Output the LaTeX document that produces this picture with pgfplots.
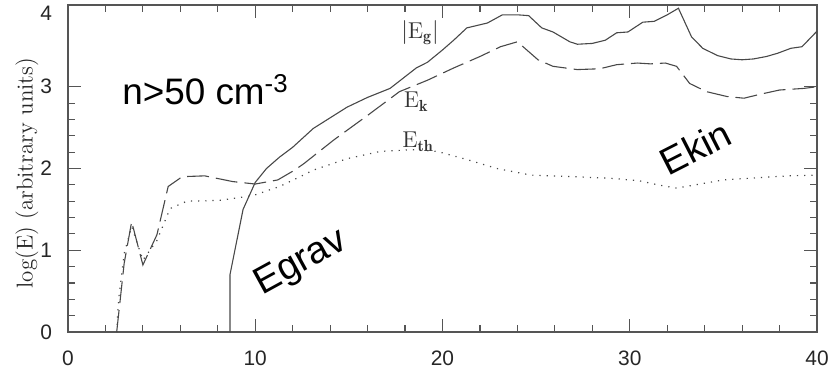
\documentclass[border=0pt]{standalone}
\usepackage{fontspec}
\usepackage{pgfplots}
\pgfplotsset{compat=1.18}
\newfontfamily\helv{Liberation Sans}
\definecolor{frame}{HTML}{555555}
\definecolor{curve}{HTML}{484848}
\begin{document}
\begin{tikzpicture}
\begin{axis}[
  name=ax,
  scale only axis,
  width=374.5bp, height=163.5bp,
  xmin=0, xmax=40, ymin=0, ymax=4,
  xtick={0,10,20,30,40}, ytick={0,1,2,3},
  extra y ticks={4},
  extra y tick style={yticklabel style={yshift=-4bp}},
  minor x tick num=4, minor y tick num=4,
  tick align=inside,
  major tick length=6.5bp, minor tick length=3.5bp,
  axis line style={frame, line width=0.8pt},
  every tick/.style={frame, line width=0.6pt},
  /pgf/number format/assume math mode=true,
  tick label style={font=\fontsize{10.5}{12}\helv, text=black!85},
  yticklabel style={xshift=-4.5bp},
  xticklabel style={yshift=-6bp},
  ylabel={log(E) (arbitrary units)},
  every axis y label/.style={at={(axis description cs:-0.055,0.486)}, rotate=90, anchor=center, font=\fontsize{11.5}{13}\selectfont, text=black!85},
  clip=true,
]
\addplot[curve, line width=0.55pt] table {
8.65 0
8.65 0.70
9.35 1.50
10.0 1.83
10.6 2.00
11.3 2.14
12.0 2.26
13.1 2.49
14.9 2.75
16.0 2.87
17.2 2.98
18.6 3.23
19.2 3.30
20.0 3.45
20.6 3.57
21.3 3.72
22.4 3.78
23.2 3.88
24.0 3.88
24.6 3.87
25.3 3.72
25.9 3.67
26.8 3.55
27.2 3.52
28.0 3.53
28.7 3.57
29.3 3.66
29.9 3.67
30.7 3.79
31.3 3.80
32.0 3.88
32.6 3.96
33.3 3.61
33.9 3.47
34.7 3.38
35.4 3.34
36.0 3.33
36.6 3.34
37.3 3.37
37.9 3.41
38.6 3.47
39.2 3.49
40.0 3.68
};
\addplot[curve, line width=0.55pt, dash pattern=on 11bp off 3.5bp] table {
2.6 0
3.0 0.84
3.4 1.35
4.0 0.82
4.75 1.19
5.35 1.78
6.1 1.90
7.3 1.91
8.8 1.84
10.0 1.81
11.2 1.86
12.1 1.98
12.6 2.06
14.2 2.35
16.0 2.65
17.7 2.94
19.2 3.08
20.6 3.23
22.0 3.37
23.1 3.49
24.0 3.55
25.1 3.33
25.9 3.25
27.2 3.21
28.4 3.22
29.3 3.27
30.4 3.29
31.1 3.28
31.9 3.29
32.5 3.25
33.2 3.04
34.1 2.94
35.2 2.88
36.1 2.86
37.0 2.91
38.0 2.96
39.3 2.98
40.0 3.00
};
\addplot[curve, line width=0.6pt, dash pattern=on 0.6bp off 3bp] table {
2.6 0
2.7 0.39
3.0 0.96
3.4 1.29
4.0 0.88
4.75 1.12
5.45 1.51
6.35 1.60
8.1 1.61
9.9 1.67
11.3 1.78
12.4 1.90
13.1 1.98
14.9 2.12
16.7 2.21
18.4 2.23
19.7 2.21
21.3 2.11
22.9 2.00
24.7 1.92
27.0 1.90
29.0 1.88
30.5 1.85
31.5 1.80
32.5 1.76
33.5 1.80
35.0 1.86
37.0 1.89
38.5 1.91
40.0 1.92
};
\node[font=\fontsize{11.5}{13}\selectfont, text=black!80] at (axis cs:18.8,3.66) {$|\mathrm{E}_{\mathbf{g}}|$};
\node[font=\fontsize{11.5}{13}\selectfont, text=black!80] at (axis cs:18.6,2.82) {$\mathrm{E}_{\mathbf{k}}$};
\node[font=\fontsize{11.5}{13}\selectfont, text=black!80] at (axis cs:18.7,2.33) {$\mathrm{E}_{\mathbf{th}}$};
\node[anchor=base west, inner sep=0pt, font=\fontsize{18.5}{22}\helv] at (axis cs:2.88,2.78) {n>50 cm\textsuperscript{-3}};
\node[rotate=28.7, font=\fontsize{19}{22}\helv] at (axis cs:12.45,0.84) {Egrav};
\node[rotate=27, font=\fontsize{19}{22}\helv] at (axis cs:33.5,2.26) {Ekin};
\end{axis}
\pgfresetboundingbox
\path[use as bounding box] ([shift={(-34bp,-21.5bp)}]ax.south west) rectangle ([shift={(9bp,2.5bp)}]ax.north east);
\end{tikzpicture}
\end{document}
